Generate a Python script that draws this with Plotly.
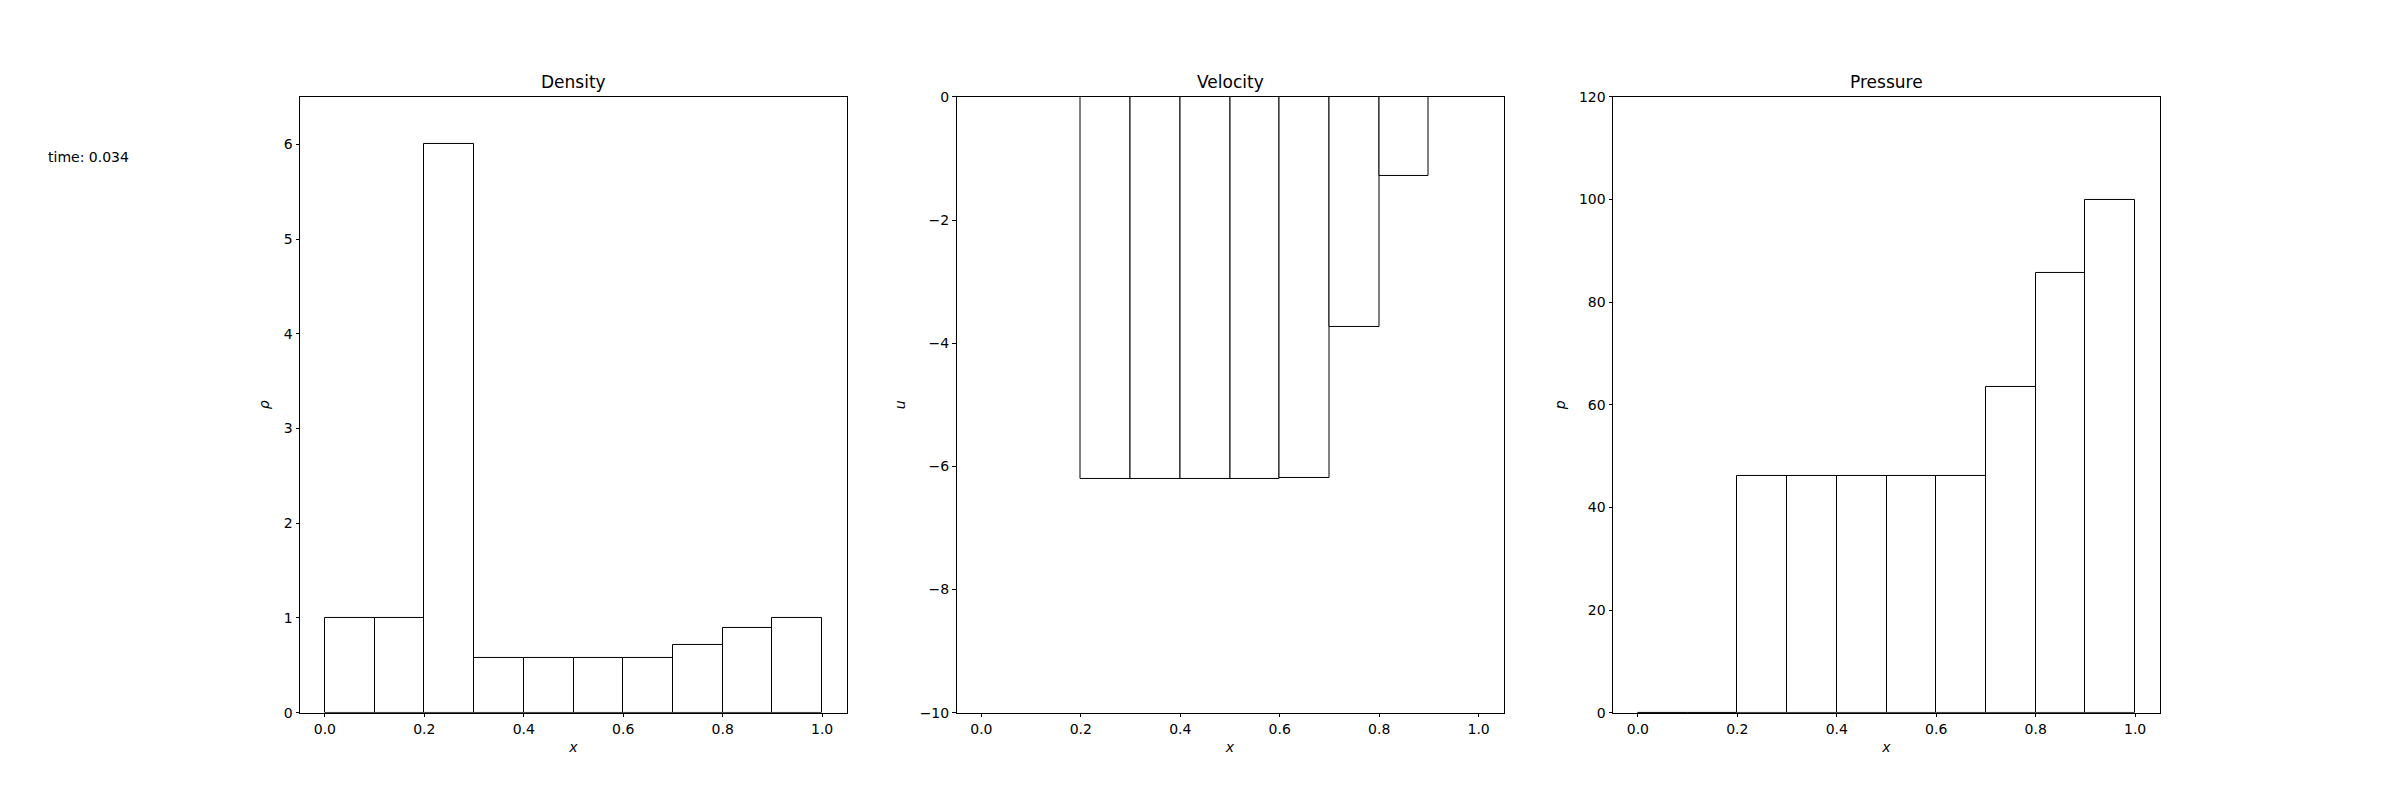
import plotly.graph_objects as go

# ---- data ----
x_left = [0.0, 0.1, 0.2, 0.3, 0.4, 0.5, 0.6, 0.7, 0.8, 0.9]
bin_width = 0.1
density = [1.0, 1.0, 6.0, 0.577, 0.577, 0.577, 0.577, 0.713, 0.892, 1.0]
velocity = [0.0, 0.0, -6.2, -6.2, -6.2, -6.2, -6.187, -3.73, -1.284, 0.0]
pressure = [0.0, 0.0, 46.1, 46.1, 46.1, 46.1, 46.1, 63.4, 85.7, 100.0]
titles = ["Density", "Velocity", "Pressure"]
ylabels = ["ρ", "u", "p"]
yranges = [[0, 6.5], [-10, 0], [0, 120]]
ydticks = [1, 2, 20]
time_text = "time: 0.034"

# page has an 8px body margin: size the figure so the page fits 2400x800 exactly
OFF_X = 8
W, H = 2384, 784
FONT = "DejaVu Sans"
# observed mapping of figure y to screen y in the capture: screen = 15 + 0.98 * fig
OFF_Y, SY = 15.0, 0.98


def px_x(p):
    return (p - OFF_X) / W


def px_y(p):
    return 1 - ((p - OFF_Y) / SY) / H


x_domains = [[px_x(300), px_x(847)], [px_x(956.5), px_x(1503.5)], [px_x(1613), px_x(2160)]]
y_domain = [px_y(712), px_y(96)]

fig = go.Figure()
series = [density, velocity, pressure]
centers = [xl + bin_width / 2 for xl in x_left]

for i, vals in enumerate(series):
    ax = "" if i == 0 else str(i + 1)
    fig.add_trace(go.Bar(
        x=centers, y=vals, width=[bin_width] * len(vals),
        marker=dict(color="white", line=dict(color="black", width=1)),
        xaxis="x" + ax, yaxis="y" + ax, showlegend=False,
    ))
    common = dict(showline=True, linecolor="black", linewidth=1, mirror=True,
                  ticks="outside", ticklen=3.5, tickcolor="black", tickwidth=1,
                  showgrid=False, zeroline=False,
                  tickfont=dict(family=FONT, size=14, color="black"))
    fig.update_layout(**{
        "xaxis" + ax: dict(domain=x_domains[i], range=[-0.05, 1.05],
                           tickmode="linear", tick0=0, dtick=0.2, tickformat=".1f",
                           anchor="y" + ax,
                           title=dict(text="<i>x</i>", standoff=6,
                                      font=dict(family=FONT, size=14, color="black")),
                           **common),
        "yaxis" + ax: dict(domain=y_domain, range=yranges[i],
                           tickmode="linear", tick0=0, dtick=ydticks[i],
                           anchor="x" + ax,
                           title=dict(text="<i>" + ylabels[i] + "</i>", standoff=10,
                                      font=dict(family=FONT, size=14, color="black")),
                           **common),
    })
    fig.add_annotation(text=titles[i], xref="paper", yref="paper",
                       x=sum(x_domains[i]) / 2, y=y_domain[1], xanchor="center",
                       yanchor="bottom", yshift=3, showarrow=False,
                       font=dict(family=FONT, size=17, color="black"))

fig.add_annotation(text=time_text, xref="paper", yref="paper", x=px_x(46),
                   y=px_y(156), xanchor="left", yanchor="middle", showarrow=False,
                   font=dict(family=FONT, size=14, color="black"))

fig.update_layout(width=W, height=H, margin=dict(l=0, r=0, t=0, b=0),
                  paper_bgcolor="white", plot_bgcolor="white", bargap=0,
                  font=dict(family=FONT, size=14, color="black"))

fig.write_html("out.html")
